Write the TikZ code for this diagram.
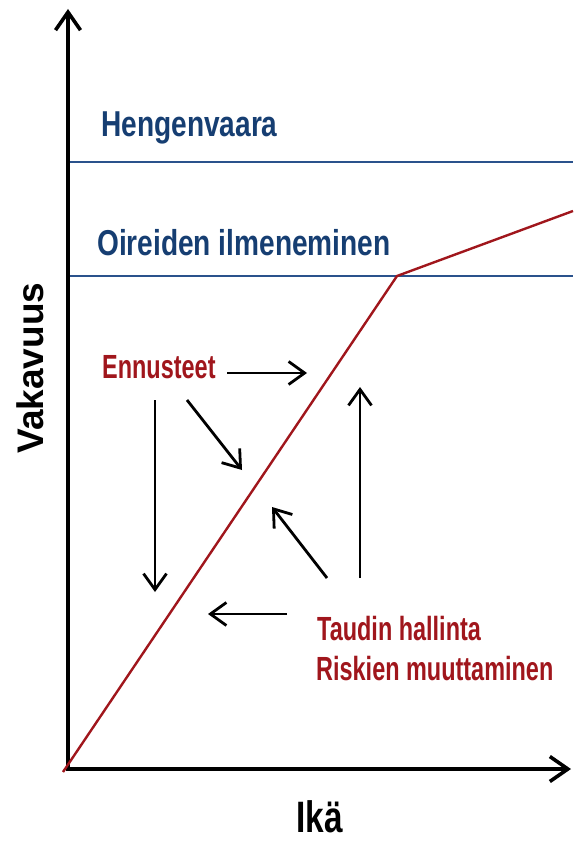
\documentclass[tikz,border=0pt]{standalone}
\usepackage{fontspec}
\setmainfont{Liberation Sans}
\newfontfamily\sinifont[FakeStretch=0.78]{Liberation Sans Bold}
\newfontfamily\punafont[FakeStretch=0.70]{Liberation Sans Bold}
\newfontfamily\ikafont[FakeStretch=0.76]{Liberation Sans Bold}
\usepackage{tikz}
\usetikzlibrary{arrows.meta,positioning}
\definecolor{tummansininen}{RGB}{22,62,114}
\definecolor{viivansininen}{RGB}{42,82,140}
\definecolor{tummanpunainen}{RGB}{160,22,28}
\tikzset{
  raja/.style={viivansininen, line width=2.3pt},
  akseli/.style={line width=3.6pt, -{Straight Barb[length=18pt,width=25pt]}},
  nuoli/.style={line width=2.8pt, -{Straight Barb[length=16pt,width=23pt]}},
  tasoteksti/.style={tummansininen, font=\sinifont\fontsize{36}{40}\selectfont, inner sep=0pt, anchor=base west},
  hoitoteksti/.style={tummanpunainen, font=\punafont\fontsize{33.5}{40}\selectfont, inner sep=0pt, anchor=base west},
}

\begin{document}
\begin{tikzpicture}[x=1pt, y=-1pt]
\useasboundingbox (0,0) rectangle (573,842);
% Tasot
\draw[raja] (68,162) -- (573,162);
\draw[raja] (68,276) -- (573,276);
\node[tasoteksti] (hengen) at (101,137) {Hengenvaara};
\node[tasoteksti] (oireet) at (97,255) {Oireiden ilmeneminen};
% Akselit
\coordinate (origo) at (68,769);
\coordinate (xkarki) at (571,769);
\coordinate (ykarki) at (68,9);
\draw[akseli] (origo) -- (xkarki);
\draw[akseli] (origo |- 0,771) -- (ykarki);
\node[rotate=90, anchor=base, inner sep=0pt, font=\bfseries\fontsize{37}{40}\selectfont] (vakavuus) at (43,368) {Vakavuus};
\node[anchor=base west, inner sep=0pt, font=\ikafont\fontsize{44}{50}\selectfont] (ika) at (296,832) {Ikä};
% Taudin kulku
\coordinate (alku) at (63,772);
\coordinate (taite) at (397,276);
\coordinate (loppu) at (573,211);
\draw[tummanpunainen, line width=2.4pt] (alku) -- (taite) -- (loppu);
% Tekstit
\node[hoitoteksti] (ennus) at (102,378) {Ennusteet};
\node[hoitoteksti] (hallinta) at (317,640) {Taudin hallinta};
\node[hoitoteksti] (riskit) at (316,680) {Riskien muuttaminen};
% Nuolet
\coordinate (a1) at (227,373); \coordinate (b1) at (307,373);
\coordinate (a2) at (155,400); \coordinate (b2) at (155,592);
\coordinate (a3) at (187,400); \coordinate (b3) at (242,470);
\coordinate (a4) at (360,578); \coordinate (b4) at (360,387);
\coordinate (a5) at (327,578); \coordinate (b5) at (272,507);
\coordinate (a6) at (287,614); \coordinate (b6) at (208,614);
\foreach \i in {1,...,6} \draw[nuoli] (a\i) -- (b\i);
\end{tikzpicture}
\end{document}
